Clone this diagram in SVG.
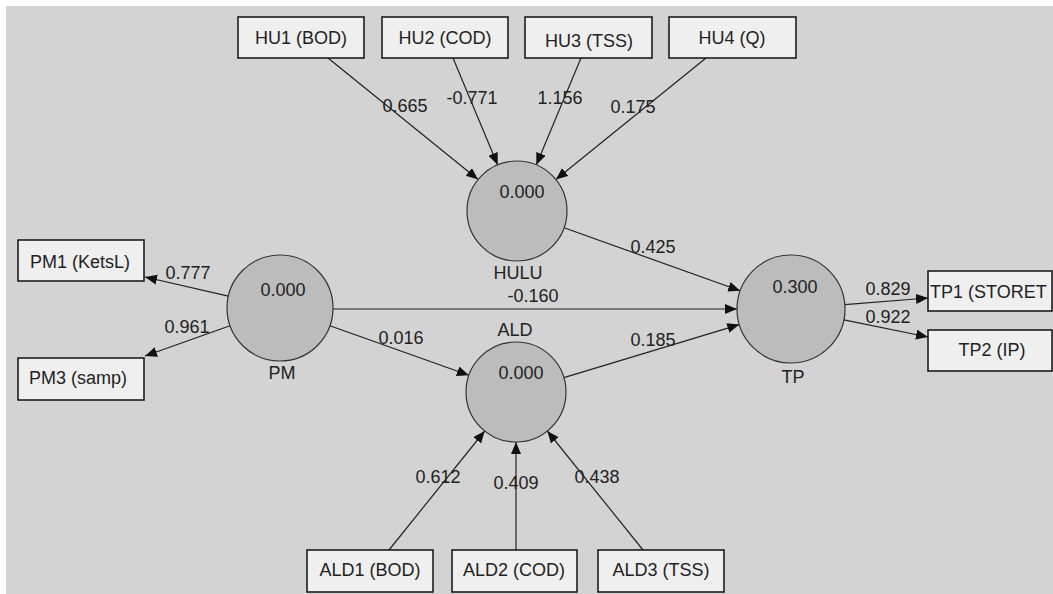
<svg xmlns="http://www.w3.org/2000/svg" width="1053" height="594" viewBox="0 0 1053 594">
<style>
text{font-family:"Liberation Sans",Arial,sans-serif;font-size:18px;fill:#222;text-anchor:middle;dominant-baseline:central}
.box{fill:#efefef;stroke:#111;stroke-width:1.5}
.lv{fill:#bcbcbc;stroke:#333;stroke-width:1.2}
.edge{stroke:#222;stroke-width:1.2;fill:none;marker-end:url(#arr)}
</style>
<defs>
<marker id="arr" markerUnits="userSpaceOnUse" markerWidth="13" markerHeight="11" refX="12" refY="5" orient="auto">
<path d="M0,0 L12,5 L0,10 z" fill="#111"/>
</marker>
</defs>
<rect width="1053" height="594" fill="#fff"/>
<rect x="6" y="6" width="1047" height="588" fill="#d3d3d3"/>
<g id="connectors">
<line class="edge" x1="328" y1="58" x2="478.1" y2="179.5"/>
<line class="edge" x1="453" y1="58" x2="497.7" y2="164.9"/>
<line class="edge" x1="581" y1="58" x2="536.3" y2="164.9"/>
<line class="edge" x1="706" y1="58" x2="555.9" y2="179.5"/>
<line class="edge" x1="228.3" y1="296.1" x2="145" y2="277"/>
<line class="edge" x1="230" y1="325.8" x2="145" y2="356"/>
<line class="edge" x1="333" y1="309" x2="737" y2="309"/>
<line class="edge" x1="329.9" y1="325.8" x2="468.9" y2="375.2"/>
<line class="edge" x1="564.1" y1="227.8" x2="740.2" y2="290.8"/>
<line class="edge" x1="563.9" y1="377.6" x2="739.3" y2="324.6"/>
<line class="edge" x1="844.8" y1="304.7" x2="928" y2="298"/>
<line class="edge" x1="843.9" y1="319.8" x2="928" y2="337"/>
<line class="edge" x1="389" y1="550" x2="484.7" y2="431"/>
<line class="edge" x1="516" y1="550" x2="516" y2="442"/>
<line class="edge" x1="643" y1="550" x2="547.3" y2="431"/>
<text x="405" y="106">0.665</text>
<text x="472" y="98">-0.771</text>
<text x="560" y="98">1.156</text>
<text x="633" y="107">0.175</text>
<text x="188" y="273">0.777</text>
<text x="187" y="327">0.961</text>
<text x="401" y="338">0.016</text>
<text x="533" y="296">-0.160</text>
<text x="653" y="247">0.425</text>
<text x="653" y="340">0.185</text>
<text x="888" y="289">0.829</text>
<text x="888" y="317">0.922</text>
<text x="438" y="477">0.612</text>
<text x="516" y="483">0.409</text>
<text x="597" y="477">0.438</text>
</g>
<g id="HULU"><circle class="lv" cx="517" cy="211" r="50"/><text x="522" y="192">0.000</text><text x="518" y="273">HULU</text></g>
<g id="ALD"><circle class="lv" cx="516" cy="392" r="50"/><text x="521" y="373">0.000</text><text x="515" y="330">ALD</text></g>
<g id="PM"><circle class="lv" cx="280" cy="308" r="53"/><text x="283" y="290">0.000</text><text x="282" y="373">PM</text></g>
<g id="TP"><circle class="lv" cx="791" cy="309" r="54"/><text x="795" y="287">0.300</text><text x="793" y="377">TP</text></g>
<g id="HU1"><rect class="box" x="238" y="17" width="126" height="41"/><text x="301" y="38">HU1 (BOD)</text></g>
<g id="HU2"><rect class="box" x="382" y="17" width="126" height="41"/><text x="445" y="38">HU2 (COD)</text></g>
<g id="HU3"><rect class="box" x="525" y="17" width="127" height="41"/><text x="589" y="41">HU3 (TSS)</text></g>
<g id="HU4"><rect class="box" x="669" y="17" width="127" height="41"/><text x="732" y="38">HU4 (Q)</text></g>
<g id="PM1"><rect class="box" x="18" y="240" width="126" height="41"/><text x="80" y="262">PM1 (KetsL)</text></g>
<g id="PM3"><rect class="box" x="18" y="358" width="126" height="42"/><text x="78" y="378">PM3 (samp)</text></g>
<g id="TP1"><rect class="box" x="928" y="271" width="124" height="40"/><text x="930" y="292" style="text-anchor:start">TP1 (STORET</text></g>
<g id="TP2"><rect class="box" x="928" y="330" width="124" height="41"/><text x="992" y="350">TP2 (IP)</text></g>
<g id="ALD1"><rect class="box" x="307" y="550" width="126" height="42"/><text x="370" y="570">ALD1 (BOD)</text></g>
<g id="ALD2"><rect class="box" x="452" y="550" width="125" height="42"/><text x="514" y="570">ALD2 (COD)</text></g>
<g id="ALD3"><rect class="box" x="598" y="550" width="126" height="42"/><text x="661" y="570">ALD3 (TSS)</text></g>
</svg>
